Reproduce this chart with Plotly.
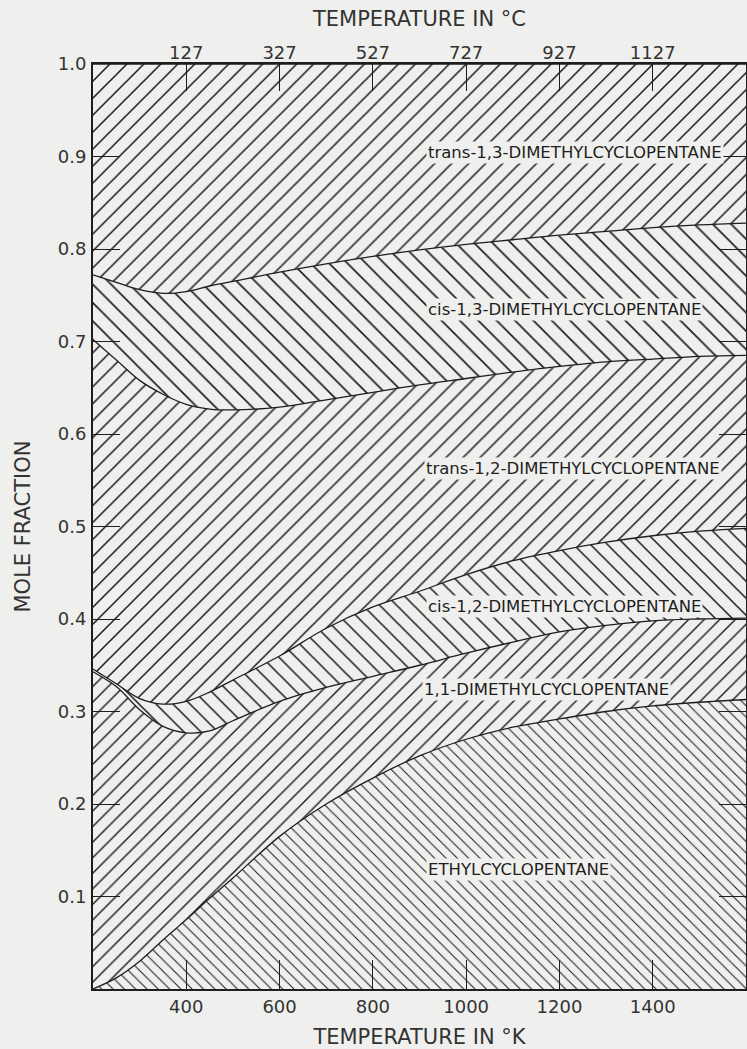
import plotly.graph_objects as go

# Temperature grid (K)
temperature_k = [200, 250, 300, 350, 400, 450, 500, 600, 700, 800, 900, 1000,
                 1100, 1200, 1300, 1400, 1500, 1600]

# Equilibrium mole fractions of each isomer
ethyl = [0.000, 0.012, 0.030, 0.053, 0.075, 0.098, 0.120, 0.165, 0.200, 0.228,
         0.252, 0.270, 0.283, 0.292, 0.300, 0.306, 0.310, 0.313]
dm11 = [0.343, 0.315, 0.272, 0.231, 0.202, 0.181, 0.170, 0.146, 0.126, 0.110,
        0.098, 0.093, 0.092, 0.094, 0.093, 0.092, 0.090, 0.088]
cis12 = [0.003, 0.003, 0.012, 0.024, 0.034, 0.042, 0.044, 0.049, 0.064, 0.075,
         0.080, 0.085, 0.088, 0.088, 0.090, 0.092, 0.095, 0.097]
trans12 = [0.356, 0.350, 0.344, 0.335, 0.321, 0.306, 0.292, 0.269, 0.247, 0.232,
           0.223, 0.212, 0.204, 0.199, 0.195, 0.191, 0.189, 0.187]
cis13 = [0.070, 0.084, 0.098, 0.109, 0.122, 0.133, 0.139, 0.146, 0.147, 0.147,
         0.146, 0.145, 0.143, 0.142, 0.141, 0.142, 0.142, 0.143]
trans13 = [0.228, 0.236, 0.244, 0.248, 0.246, 0.240, 0.235, 0.225, 0.216, 0.208,
           0.201, 0.195, 0.190, 0.185, 0.181, 0.177, 0.174, 0.172]

series_names = ["ETHYLCYCLOPENTANE", "1,1-DIMETHYLCYCLOPENTANE",
                "cis-1,2-DIMETHYLCYCLOPENTANE", "trans-1,2-DIMETHYLCYCLOPENTANE",
                "cis-1,3-DIMETHYLCYCLOPENTANE", "trans-1,3-DIMETHYLCYCLOPENTANE"]
series_values = [ethyl, dm11, cis12, trans12, cis13, trans13]

# Label placement (K, mole fraction)
label_x = [914, 906, 914, 910, 914, 914]
label_y = [0.129, 0.324, 0.414, 0.563, 0.735, 0.904]

# Axis ticks
k_ticks = [400, 600, 800, 1000, 1200, 1400]
c_ticks = [127, 327, 527, 727, 927, 1127]
y_ticks = [0.1, 0.2, 0.3, 0.4, 0.5, 0.6, 0.7, 0.8, 0.9, 1.0]
y_ticktext = ["0.1", "0.2", "0.3", "0.4", "0.5", "0.6", "0.7", "0.8", "0.9", "1.0"]

BG = "#efefed"
INK = "#1e1e1e"
hatch_shapes = ["\\", "/", "\\", "/", "\\", "/"]
hatch_sizes = [8, 11, 12, 12, 13, 12]

fig = go.Figure()
for name, vals, shp, sz in zip(series_names, series_values, hatch_shapes, hatch_sizes):
    fig.add_trace(go.Scatter(
        x=temperature_k, y=vals, name=name, mode="lines",
        stackgroup="one",
        line=dict(color=INK, width=1.3, shape="spline", smoothing=1.0),
        fillcolor=BG,
        fillpattern=dict(shape=shp, size=sz, solidity=0.13,
                         fgcolor=INK, bgcolor=BG, fillmode="replace"),
        hoverinfo="skip", showlegend=False,
    ))

# Invisible trace to anchor the top (°C) axis
fig.add_trace(go.Scatter(x=[c_ticks[0]], y=[None], xaxis="x2", yaxis="y",
                         mode="markers", showlegend=False, hoverinfo="skip"))

for txt, lx, ly in zip(series_names, label_x, label_y):
    fig.add_annotation(x=lx, y=ly, text=txt, showarrow=False, xanchor="left",
                       yanchor="middle", bgcolor=BG, borderpad=1,
                       font=dict(family="DejaVu Sans", size=16.5, color=INK))

axis_font = dict(family="DejaVu Sans", size=18, color="#333")
title_font = dict(family="DejaVu Sans", size=21, color="#333")

fig.update_layout(
    width=747, height=1049,
    margin=dict(l=93, r=1, t=64, b=60),
    paper_bgcolor=BG, plot_bgcolor=BG,
    xaxis=dict(range=[200, 1600], tickvals=k_ticks, ticks="inside", ticklen=29,
               tickwidth=1.2, tickcolor=INK, showline=True, linecolor=INK,
               linewidth=1.8, mirror=True, showgrid=False, zeroline=False,
               tickfont=axis_font, ticklabelstandoff=0, automargin=False,
               title=dict(text="TEMPERATURE IN °K", font=title_font, standoff=19)),
    xaxis2=dict(range=[200 - 273, 1600 - 273], tickvals=c_ticks, overlaying="x",
                side="top", ticks="inside", ticklen=27, tickwidth=1.2,
                tickcolor=INK, showline=False, showgrid=False, zeroline=False,
                tickfont=axis_font, ticklabelstandoff=0, automargin=False,
                title=dict(text="TEMPERATURE IN °C", font=title_font, standoff=10)),
    yaxis=dict(range=[0, 1.0], tickvals=y_ticks, ticktext=y_ticktext,
               ticks="inside", ticklen=27, tickwidth=1.2, tickcolor=INK,
               showline=True, linecolor=INK, linewidth=1.8, mirror="ticks",
               showgrid=False, zeroline=False, tickfont=axis_font,
               ticklabelstandoff=1, automargin=False,
               title=dict(text="MOLE FRACTION", font=title_font, standoff=22)),
)

fig.write_html("out.html",
               config={"displayModeBar": False},
               post_script="document.body.style.margin='0';"
                           "document.body.style.overflow='hidden';"
                           "document.body.style.background='#efefed';")
